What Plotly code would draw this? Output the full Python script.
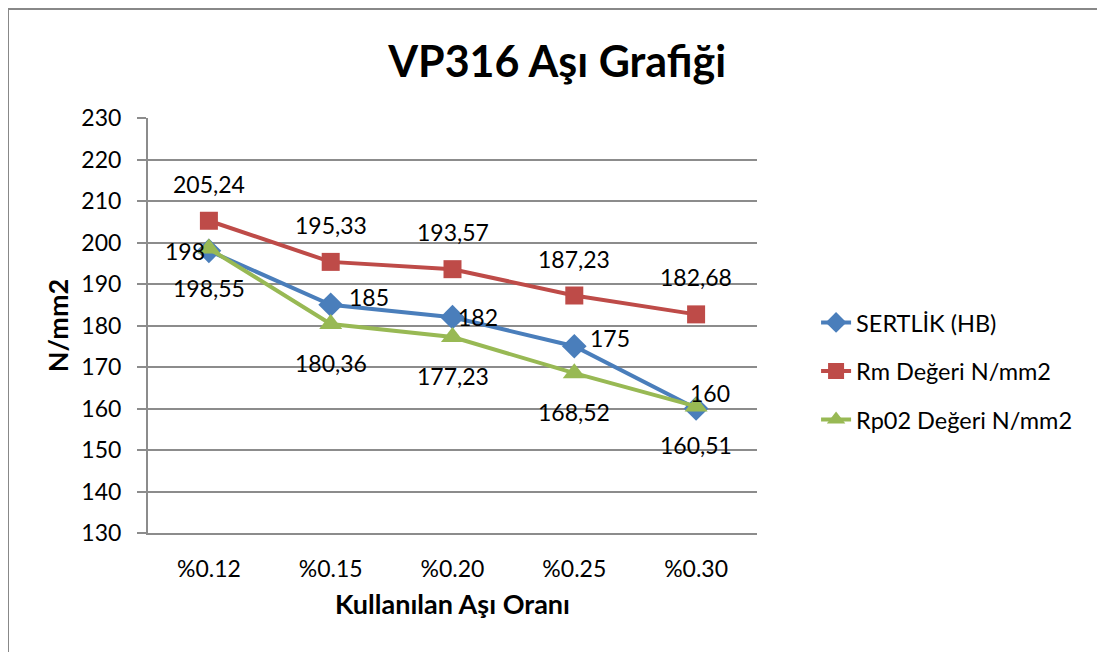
import plotly.graph_objects as go

# values
categories = ['%0.12', '%0.15', '%0.20', '%0.25', '%0.30']
sertlik = [198, 185, 182, 175, 160]
rm_degeri = [205.24, 195.33, 193.57, 187.23, 182.68]
rp02_degeri = [198.55, 180.36, 177.23, 168.52, 160.51]

sertlik_labels = ['198', '185', '182', '175', '160']
rm_labels = ['205,24', '195,33', '193,57', '187,23', '182,68']
rp02_labels = ['198,55', '180,36', '177,23', '168,52', '160,51']

FONT = 'Lato'
BLUE = '#4A7EBB'
RED = '#BE4B48'
GREEN = '#98B954'
GRID = '#8C8C8C'

fig = go.Figure()
fig.add_trace(go.Scatter(
    x=categories, y=sertlik, name='SERTLİK (HB)', mode='lines+markers',
    line=dict(color=BLUE, width=4), legendgroup='a',
    marker=dict(symbol='diamond', size=19, color=BLUE)
))
fig.add_trace(go.Scatter(
    x=categories, y=rm_degeri, name='Rm Değeri N/mm2', mode='lines+markers',
    line=dict(color=RED, width=4), legendgroup='b',
    marker=dict(symbol='square', size=18, color=RED)
))
fig.add_trace(go.Scatter(
    x=categories, y=rp02_degeri, name='Rp02 Değeri N/mm2', mode='lines+markers',
    line=dict(color=GREEN, width=4), legendgroup='c',
    marker=dict(symbol='triangle-up', size=20, color=GREEN)
))

# data labels, placed like the excel ones
label_font = dict(family=FONT, size=23, color='black')
for i, c in enumerate(categories):
    fig.add_annotation(x=c, y=rm_degeri[i], text=rm_labels[i], showarrow=False,
                       yshift=37, font=label_font)
    fig.add_annotation(x=c, y=rp02_degeri[i], text=rp02_labels[i], showarrow=False,
                       yshift=-39, font=label_font)

s_xshift = [-2, 16, 3, 14, -8]
s_yshift = [0, 8, 0, 8, 16]
s_anchor = ['right', 'left', 'left', 'left', 'left']
for i, c in enumerate(categories):
    fig.add_annotation(x=c, y=sertlik[i], text=sertlik_labels[i], showarrow=False,
                       xanchor=s_anchor[i], xshift=s_xshift[i], yshift=s_yshift[i],
                       font=label_font)

# chart border
fig.add_shape(type='rect', xref='paper', yref='paper',
              x0=-0.2299, x1=1.5698, y0=-0.3, y1=1.2627,
              line=dict(color='#888888', width=2), layer='below')

fig.update_layout(
    width=1105, height=652,
    margin=dict(l=140, r=356, t=110, b=127),
    paper_bgcolor='white', plot_bgcolor='white',
    font=dict(family=FONT, size=23, color='black'),
    title=dict(text='<b>VP316 Aşı Grafiği</b>', x=0.497, xanchor='center',
               y=0.917, yanchor='middle', font=dict(family=FONT, size=43)),
    showlegend=True,
    legend=dict(x=1.097, xanchor='left', y=0.39, yanchor='middle',
                font=dict(family=FONT, size=23.5), tracegroupgap=15,
                bgcolor='rgba(0,0,0,0)'),
    xaxis=dict(
        range=[-0.5, 4.5],
        showgrid=False, showline=True, linecolor=GRID, linewidth=2,
        ticks='', ticklabelstandoff=14,
        title=dict(text='<b>Kullanılan Aşı Oranı</b>', font=dict(size=27), standoff=15)
    ),
    yaxis=dict(
        range=[130, 230], dtick=10, showgrid=True, gridcolor=GRID, gridwidth=2,
        showline=True, linecolor=GRID, linewidth=2, zeroline=False,
        ticks='outside', ticklen=9, tickcolor=GRID, tickwidth=2, ticklabelstandoff=11,
        title=dict(text='<b>N/mm2</b>', font=dict(size=27), standoff=5)
    ),
)

fig.write_html('out.html')
